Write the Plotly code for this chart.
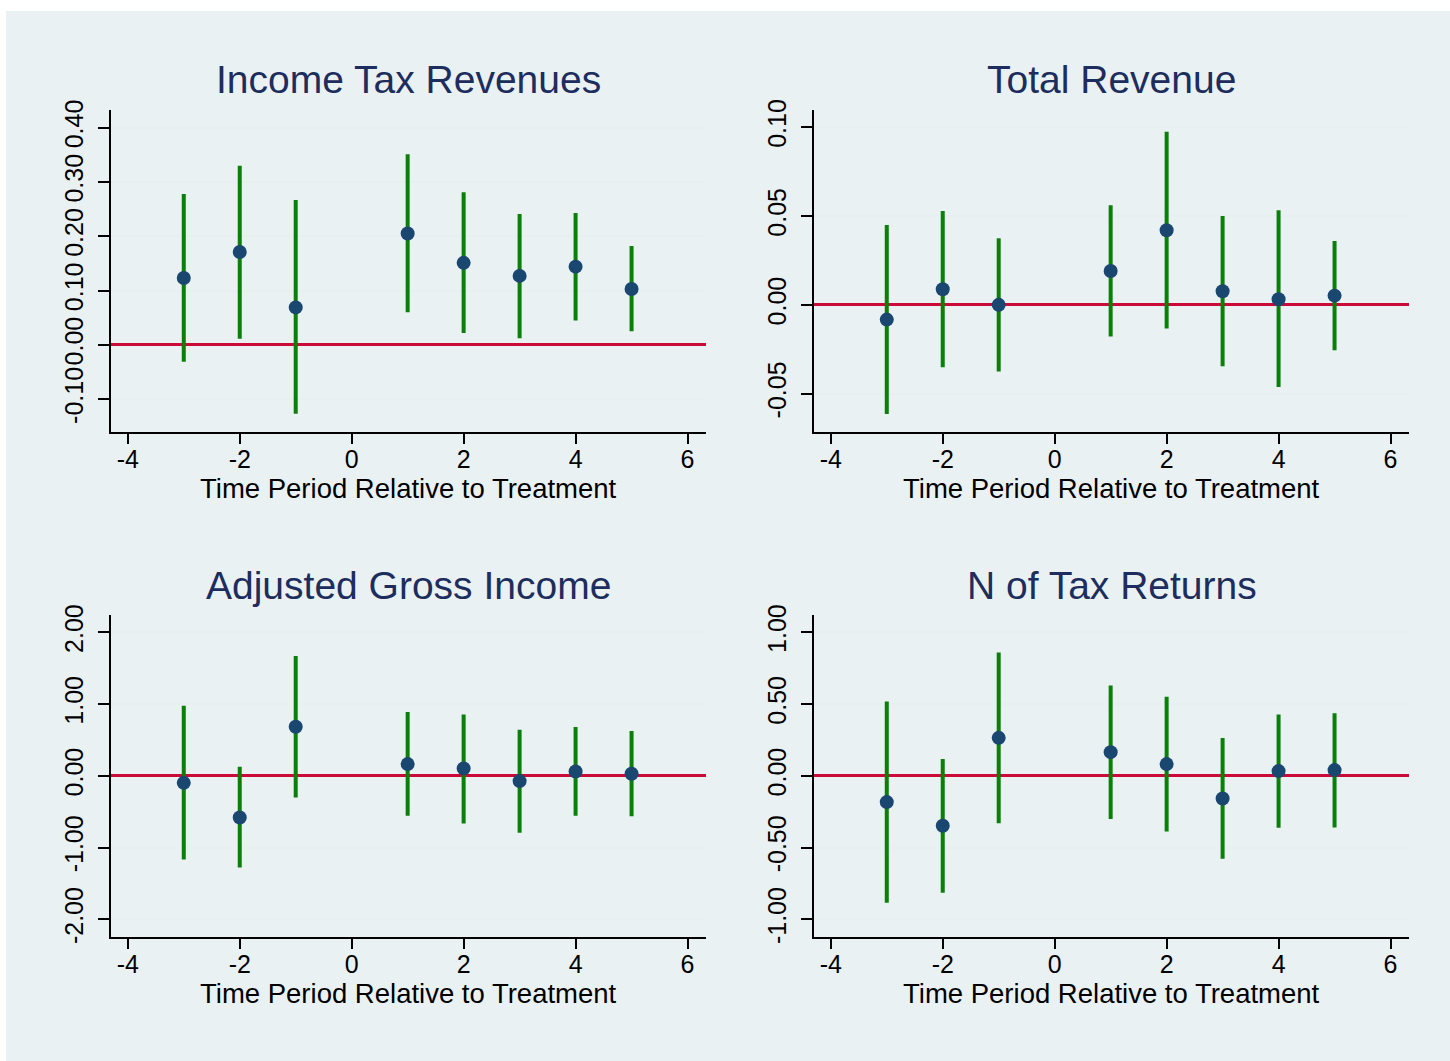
import plotly.graph_objects as go

periods = [-3, -2, -1, 1, 2, 3, 4, 5]

titles = ["Income Tax Revenues", "Total Revenue", "Adjusted Gross Income", "N of Tax Returns"]

# Income Tax Revenues
itr_est = [0.123, 0.171, 0.069, 0.205, 0.151, 0.127, 0.144, 0.103]
itr_lo = [-0.031, 0.011, -0.127, 0.060, 0.022, 0.012, 0.045, 0.025]
itr_hi = [0.278, 0.330, 0.267, 0.351, 0.281, 0.241, 0.243, 0.182]

# Total Revenue
tr_est = [-0.0083, 0.0088, 0.0000, 0.0191, 0.0420, 0.0077, 0.0032, 0.0052]
tr_lo = [-0.0614, -0.0351, -0.0375, -0.0178, -0.0133, -0.0345, -0.0463, -0.0255]
tr_hi = [0.0450, 0.0528, 0.0375, 0.0561, 0.0974, 0.0500, 0.0533, 0.0360]

# Adjusted Gross Income
agi_est = [-0.098, -0.580, 0.683, 0.163, 0.103, -0.074, 0.061, 0.028]
agi_lo = [-1.165, -1.277, -0.301, -0.557, -0.664, -0.794, -0.557, -0.562]
agi_hi = [0.976, 0.125, 1.668, 0.888, 0.856, 0.641, 0.679, 0.623]

# N of Tax Returns
ntr_est = [-0.183, -0.348, 0.265, 0.165, 0.082, -0.158, 0.033, 0.040]
ntr_lo = [-0.885, -0.815, -0.330, -0.300, -0.388, -0.578, -0.362, -0.360]
ntr_hi = [0.518, 0.118, 0.860, 0.630, 0.551, 0.263, 0.428, 0.437]

x_ticks = [-4, -2, 0, 2, 4, 6]
x_ticklabels = ["-4", "-2", "0", "2", "4", "6"]
y_ticks = [
    [-0.10, 0.00, 0.10, 0.20, 0.30, 0.40],
    [-0.05, 0.00, 0.05, 0.10],
    [-2.00, -1.00, 0.00, 1.00, 2.00],
    [-1.00, -0.50, 0.00, 0.50, 1.00],
]
y_ticklabels = [
    ["-0.10", "0.00", "0.10", "0.20", "0.30", "0.40"],
    ["-0.05", "0.00", "0.05", "0.10"],
    ["-2.00", "-1.00", "0.00", "1.00", "2.00"],
    ["-1.00", "-0.50", "0.00", "0.50", "1.00"],
]
y_ranges = [[-0.160, 0.4326], [-0.0714, 0.1097], [-2.242, 2.241], [-1.121, 1.121]]
x_range = [-4.30, 6.33]
x_title = "Time Period Relative to Treatment"

series = [
    (itr_est, itr_lo, itr_hi),
    (tr_est, tr_lo, tr_hi),
    (agi_est, agi_lo, agi_hi),
    (ntr_est, ntr_lo, ntr_hi),
]

W, H = 1450, 1061
# panel pixel boxes: (left, right, top, bottom)
boxes = [(111, 706, 110, 431.7), (814, 1409, 110, 431.7),
         (111, 706, 615, 936.7), (814, 1409, 615, 936.7)]

GREEN = "#0a7f0a"
NAVY = "#1a476f"
RED = "#cc0a3a"
GRID = "#e8eff2"
BG = "#eaf1f3"
TITLE_C = "#1c2d5e"
FONT = "Arial, Liberation Sans, sans-serif"

fig = go.Figure()
annotations = []
for i, ((est, lo, hi), box) in enumerate(zip(series, boxes)):
    n = "" if i == 0 else str(i + 1)
    xa, ya = "x" + n, "y" + n
    up = [h - e for h, e in zip(hi, est)]
    dn = [e - l for e, l in zip(est, lo)]
    fig.add_trace(go.Scatter(
        x=periods, y=est, mode="markers", xaxis=xa, yaxis=ya,
        marker=dict(color=NAVY, size=14, line=dict(width=0)),
        error_y=dict(type="data", symmetric=False, array=up, arrayminus=dn,
                     width=0, thickness=4, color=GREEN),
        showlegend=False, hoverinfo="skip"))
    l, r, t, b = box
    xd = [l / W, r / W]
    yd = [1 - b / H, 1 - t / H]
    common_font = dict(family=FONT, size=25, color="black")
    fig.update_layout(**{
        "xaxis" + n: dict(domain=xd, range=x_range, tickvals=x_ticks, ticktext=x_ticklabels,
                          anchor=ya, showgrid=False, zeroline=False, showline=True,
                          linecolor="black", linewidth=1.5, ticks="outside",
                          ticklen=11, tickwidth=1.5, tickcolor="black",
                          ticklabelstandoff=-6,
                          tickfont=common_font, automargin=False),
        "yaxis" + n: dict(domain=yd, range=y_ranges[i], tickvals=y_ticks[i],
                          ticktext=y_ticklabels[i], anchor=xa, tickangle=-90,
                          showgrid=True, gridcolor=GRID, gridwidth=2,
                          zeroline=True, zerolinecolor=RED, zerolinewidth=2.5,
                          showline=True, linecolor="black", linewidth=1.5,
                          ticks="outside", ticklen=11, tickwidth=1.5, tickcolor="black",
                          ticklabelstandoff=5,
                          tickfont=common_font, automargin=False),
    })
    cx = (l + r) / 2 / W
    annotations.append(dict(text=titles[i], x=cx, y=1 - (t - 30) / H, xref="paper", yref="paper",
                            xanchor="center", yanchor="middle", showarrow=False,
                            font=dict(family=FONT, size=39, color=TITLE_C)))
    annotations.append(dict(text=x_title, x=cx, y=1 - (b + 57) / H, xref="paper", yref="paper",
                            xanchor="center", yanchor="middle", showarrow=False,
                            font=dict(family=FONT, size=27.5, color="black")))

fig.update_layout(
    width=W, height=H,
    margin=dict(l=0, r=0, t=0, b=0),
    paper_bgcolor="white",
    plot_bgcolor="white",
    annotations=annotations,
    shapes=[dict(type="rect", xref="paper", yref="paper", x0=6 / W, x1=1, y0=0, y1=1 - 11 / H,
                 fillcolor=BG, line=dict(width=0), layer="below")],
)

fig.write_html("out.html")
